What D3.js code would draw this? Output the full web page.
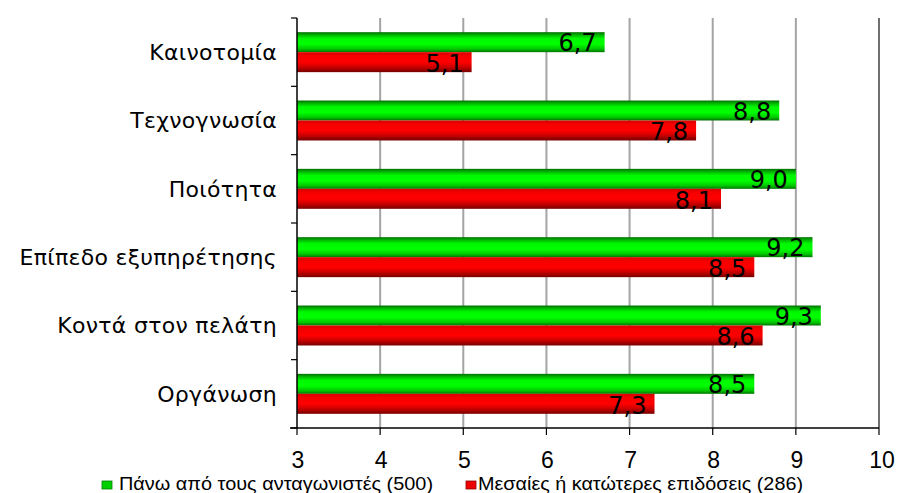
<!DOCTYPE html>
<html>
<head>
<meta charset="utf-8">
<script src="https://cdn.jsdelivr.net/npm/d3@7"></script>
<style>
  html, body { margin: 0; padding: 0; background: #fff; }
  svg { display: block; }
</style>
</head>
<body>
<svg id="chart" width="898" height="493"></svg>
<script>
// Categories (top to bottom) and the two series
const categories = ["Καινοτομία", "Τεχνογνωσία", "Ποιότητα", "Επίπεδο εξυπηρέτησης", "Κοντά στον πελάτη", "Οργάνωση"];
const aboveCompetitors = [6.7, 8.8, 9.0, 9.2, 9.3, 8.5];
const averageOrBelow = [5.1, 7.8, 8.1, 8.5, 8.6, 7.3];
const seriesNames = ["Πάνω από τους ανταγωνιστές (500)", "Μεσαίες ή κατώτερες επιδόσεις (286)"];
const xTicks = [3, 4, 5, 6, 7, 8, 9, 10];

const svg = d3.select("#chart");
const plotLeft = 297, plotRight = 879, plotTop = 18, plotBottom = 428;

const x = d3.scaleLinear().domain([3, 10]).range([plotLeft, plotRight]);
const y = d3.scaleBand().domain(categories).range([plotTop, plotBottom])
  .paddingInner(0.415).paddingOuter(0.2075);
const sub = d3.scaleBand().domain([0, 1]).range([0, y.bandwidth()]);

// Cylinder-like vertical gradients for the bars
const defs = svg.append("defs");
function grad(id, stops) {
  const g = defs.append("linearGradient").attr("id", id)
    .attr("x1", 0).attr("y1", 0).attr("x2", 0).attr("y2", 1);
  stops.forEach(([o, c]) => g.append("stop").attr("offset", o).attr("stop-color", c));
}
grad("gGreen", [[0, "#006e00"], [0.15, "#00b800"], [0.32, "#00f800"], [0.6, "#00ff00"], [0.84, "#00c800"], [1, "#007400"]]);
grad("gRed", [[0, "#d80000"], [0.2, "#f60000"], [0.5, "#ff0000"], [0.72, "#d00000"], [1, "#780000"]]);
const fills = ["url(#gGreen)", "url(#gRed)"];

// Vertical gridlines
svg.append("g").selectAll("line").data(xTicks.slice(1, -1)).join("line")
  .attr("x1", d => x(d)).attr("x2", d => x(d))
  .attr("y1", plotTop).attr("y2", plotBottom)
  .attr("stroke", "#a4a4a4").attr("stroke-width", 2);
// Right border of the plot
svg.append("line").attr("x1", x(10)).attr("x2", x(10)).attr("y1", plotTop).attr("y2", plotBottom)
  .attr("stroke", "#404040").attr("stroke-width", 1.5);

// Bars
const series = [aboveCompetitors, averageOrBelow];
const rows = svg.append("g").selectAll("g").data(categories).join("g")
  .attr("transform", d => `translate(0,${y(d)})`);
rows.each(function (cat, i) {
  const g = d3.select(this);
  series.forEach((vals, s) => {
    g.append("rect")
      .attr("x", x(3)).attr("y", sub(s))
      .attr("width", x(vals[i]) - x(3)).attr("height", sub.bandwidth())
      .attr("fill", fills[s]);
  });
  series.forEach((vals, s) => {
    g.append("text")
      .attr("x", x(vals[i]) - 8)
      .attr("y", sub(s) + sub.bandwidth() - (s === 0 ? 1 : 0))
      .attr("text-anchor", "end")
      .attr("font-family", "DejaVu Sans, Verdana, sans-serif")
      .attr("font-size", 24)
      .attr("fill", "#000")
      .text(d3.format(".1f")(vals[i]).replace(".", ","));
  });
});

// Category axis
const yAxis = svg.append("g").attr("transform", `translate(${plotLeft},0)`);
yAxis.append("line").attr("x1", 0).attr("x2", 0).attr("y1", plotTop).attr("y2", plotBottom)
  .attr("stroke", "#000").attr("stroke-width", 1.5);
const bounds = categories.map(c => y(c) - y.step() * y.paddingInner() / 2);
bounds.push(plotBottom);
yAxis.selectAll("line.tk").data(bounds).join("line").attr("class", "tk")
  .attr("x1", -6).attr("x2", 0).attr("y1", d => d).attr("y2", d => d)
  .attr("stroke", "#000").attr("stroke-width", 1.2);
yAxis.selectAll("text").data(categories).join("text")
  .attr("x", -20).attr("y", d => y(d) + y.bandwidth() / 2)
  .attr("dy", "0.36em")
  .attr("text-anchor", "end")
  .attr("font-family", "DejaVu Sans, Verdana, sans-serif")
  .attr("font-size", 22)
  .attr("letter-spacing", 0.3)
  .attr("fill", "#000")
  .text(d => d);

// Value axis
const xAxis = svg.append("g");
xAxis.append("line").attr("x1", plotLeft - 7).attr("x2", plotRight).attr("y1", plotBottom).attr("y2", plotBottom)
  .attr("stroke", "#000").attr("stroke-width", 1.5);
xAxis.selectAll("line.tk").data(xTicks).join("line").attr("class", "tk")
  .attr("x1", d => x(d)).attr("x2", d => x(d)).attr("y1", plotBottom).attr("y2", plotBottom + 7)
  .attr("stroke", "#000").attr("stroke-width", 1.2);
xAxis.selectAll("text").data(xTicks).join("text")
  .attr("x", d => x(d) + (d === 10 ? 3 : 1)).attr("y", 468)
  .attr("text-anchor", "middle")
  .attr("font-family", "Liberation Sans, Arial, sans-serif")
  .attr("font-size", 23)
  .attr("fill", "#000")
  .text(d => d);

// Legend
const legend = [
  { sq: 102, tx: 119, w: 314, fill: "#00d000", stroke: "#008000" },
  { sq: 466, tx: 478, w: 325, fill: "#ee0000", stroke: "#900000" }
];
const lg = svg.append("g").selectAll("g").data(legend).join("g");
lg.append("rect").attr("x", d => d.sq).attr("y", 481).attr("width", 10).attr("height", 8)
  .attr("fill", d => d.fill).attr("stroke", d => d.stroke).attr("stroke-width", 0.8);
lg.append("text")
  .attr("x", d => d.tx).attr("y", 490)
  .attr("textLength", d => d.w).attr("lengthAdjust", "spacingAndGlyphs")
  .attr("font-family", "Liberation Sans Narrow, Liberation Sans, Arial, sans-serif")
  .attr("font-size", 18)
  .attr("fill", "#000")
  .text((d, i) => seriesNames[i]);
</script>
</body>
</html>
